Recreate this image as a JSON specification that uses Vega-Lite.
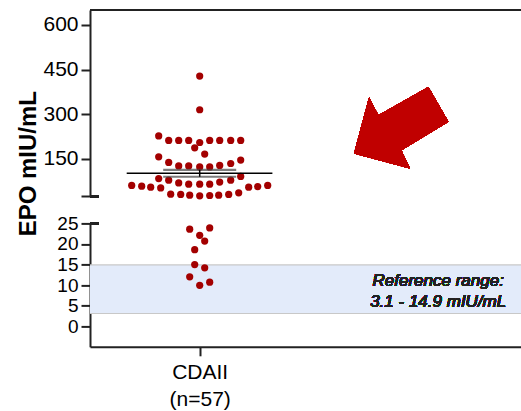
{
  "$schema": "https://vega.github.io/schema/vega-lite/v6.json",
  "padding": {"left": 16, "top": 9, "right": 0, "bottom": 0},
  "background": "white",
  "config": {
    "view": {"stroke": null},
    "font": "Liberation Sans",
    "axis": {
      "domainColor": "#222222", "domainWidth": 2, "tickColor": "#222222", "tickWidth": 2,
      "tickSize": 9, "grid": false, "labelFont": "Liberation Sans", "labelColor": "#000000",
      "labelFontSize": 21, "labelPadding": 3, "labelOverlap": false, "labelFlush": false
    }
  },
  "data": {"values": [
    {"value": 428, "slot": 0}, {"value": 315, "slot": 0}, {"value": 227, "slot": -4.1},
    {"value": 212, "slot": -3.1}, {"value": 212, "slot": -2.1}, {"value": 212, "slot": -1.1},
    {"value": 212, "slot": 1.0}, {"value": 212, "slot": 2.0}, {"value": 212, "slot": 3.1}, {"value": 212, "slot": 4.1},
    {"value": 205, "slot": 0}, {"value": 187, "slot": -0.5}, {"value": 166, "slot": 0.5},
    {"value": 157, "slot": -4.1}, {"value": 146, "slot": 4.1}, {"value": 138, "slot": -3.1},
    {"value": 126.5, "slot": -2.1}, {"value": 126.5, "slot": -1.1}, {"value": 123, "slot": 0},
    {"value": 123, "slot": 1.0}, {"value": 128, "slot": 2.0}, {"value": 134.5, "slot": 3.1},
    {"value": 84, "slot": -4.1}, {"value": 91, "slot": 4.1},
    {"value": 78.5, "slot": -3.1}, {"value": 69.4, "slot": -2.1}, {"value": 65, "slot": -1.1},
    {"value": 65, "slot": 0}, {"value": 65, "slot": 1.0}, {"value": 72, "slot": 2.0}, {"value": 78.5, "slot": 3.1},
    {"value": 60.7, "slot": -6.8}, {"value": 58.3, "slot": -5.8}, {"value": 55, "slot": -4.9}, {"value": 52.6, "slot": -3.9},
    {"value": 55, "slot": 4.9}, {"value": 57, "slot": 5.8}, {"value": 60.7, "slot": 6.8},
    {"value": 31.5, "slot": -2.9}, {"value": 30.5, "slot": -1.9}, {"value": 28, "slot": -1.0}, {"value": 25.8, "slot": 0},
    {"value": 27, "slot": 1.0}, {"value": 28, "slot": 1.9}, {"value": 30.5, "slot": 2.9}, {"value": 36, "slot": 3.9},
    {"value": 23.6, "slot": -1.0}, {"value": 23.9, "slot": 1.0}, {"value": 22.1, "slot": 0}, {"value": 20.7, "slot": 0.5},
    {"value": 18.6, "slot": -0.5}, {"value": 15.0, "slot": -0.5}, {"value": 14.2, "slot": 0.5}, {"value": 12.0, "slot": -1.0},
    {"value": 9.95, "slot": 0}, {"value": 10.7, "slot": 1.0}
  ]},
  "bounds": "flush",
  "spacing": 26.4,
  "vconcat": [
    {
      "width": 432,
      "height": 186.1,
      "layer": [
        {
          "transform": [{"filter": "datum.value >= 25"}],
          "mark": {"type": "circle", "size": 52, "color": "#a30000", "opacity": 1, "clip": false},
          "encoding": {
            "x": {"field": "slot", "type": "quantitative", "scale": {"domain": [-10.97, 32.23], "nice": false, "zero": false}, "axis": null},
            "y": {"field": "value", "type": "quantitative", "title": "EPO mIU/mL",
              "scale": {"domain": [25, 650], "nice": false, "zero": false},
              "axis": {
                "values": [25, 150, 300, 450, 600],
                "labelExpr": "datum.value == 25 ? '' : datum.label",
                "labelOverlap": false,
                "title": "EPO mIU/mL",
                "titleFont": "Liberation Sans", "titleFontSize": 24, "titleFontWeight": "bold", "titleColor": "#000000",
                "titleAngle": -90, "titleX": -55, "titleY": 153.2, "titleAlign": "center", "titleBaseline": "alphabetic"
              }
            }
          }
        },
        {
          "mark": {"type": "errorbar", "extent": "stderr", "ticks": {"size": 73, "thickness": 2.2, "color": "#444444"}, "rule": {"color": "#000000", "strokeWidth": 1.5}},
          "encoding": {
            "x": {"datum": 0},
            "y": {"field": "value", "type": "quantitative", "title": "EPO mIU/mL"}
          }
        },
        {
          "mark": {"type": "rule", "color": "#000000", "strokeWidth": 1.6},
          "encoding": {
            "x": {"datum": -7.3},
            "x2": {"datum": 7.27},
            "y": {"aggregate": "mean", "field": "value", "type": "quantitative", "title": "EPO mIU/mL"}
          }
        },
        {
          "mark": {"type": "rule", "color": "#222222", "strokeWidth": 2},
          "encoding": {"y": {"datum": 650}}
        },
        {
          "mark": {"type": "rule", "color": "#222222", "strokeWidth": 2},
          "encoding": {"x": {"datum": -10.97}, "x2": {"datum": -10.07}, "y": {"datum": 25}}
        },
        {
          "mark": {"type": "point", "filled": true, "color": "#c00000", "opacity": 1, "size": 8911, "strokeWidth": 0,
            "shape": "M -1 0.547 L -0.682 -0.64 L -0.483 -0.265 L 0.576 -0.864 L 1 -0.123 L 0.004 0.477 L 0.186 0.864 Z"},
          "encoding": {"x": {"datum": 20.15}, "y": {"datum": 254.8}}
        }
      ]
    },
    {
      "width": 432,
      "height": 123.4,
      "layer": [
        {
          "transform": [{"filter": "datum.value < 25"}],
          "mark": {"type": "circle", "size": 52, "color": "#a30000", "opacity": 0, "clip": false},
          "encoding": {
            "x": {"field": "slot", "type": "quantitative", "scale": {"domain": [-10.97, 32.23], "nice": false, "zero": false},
              "axis": {"values": [0], "labelExpr": "['CDAII', '(n=57)']", "labelFontSize": 21, "labelLineHeight": 27, "labelPadding": 6, "title": null}},
            "y": {"field": "value", "type": "quantitative", "scale": {"domain": [-5, 25], "nice": false, "zero": false},
              "axis": {"values": [0, 5, 10, 15, 20, 25], "labelOverlap": false, "labelFontSize": 19, "title": null}}
          }
        },
        {
          "data": {"values": [{"lo": 3.1, "hi": 14.9}]},
          "mark": {"type": "rect", "color": "#e3ebfa"},
          "encoding": {
            "y": {"field": "lo", "type": "quantitative", "axis": {"values": [0, 5, 10, 15, 20, 25], "labelOverlap": false, "labelFontSize": 19, "title": null}},
            "y2": {"field": "hi"}
          }
        },
        {
          "data": {"values": [{"edge": 3.1}, {"edge": 14.9}]},
          "mark": {"type": "rule", "color": "#c8c8c8", "strokeWidth": 1.2},
          "encoding": {"y": {"field": "edge", "type": "quantitative", "axis": {"values": [0, 5, 10, 15, 20, 25], "labelOverlap": false, "labelFontSize": 19, "title": null}}}
        },
        {
          "transform": [{"filter": "datum.value < 25"}],
          "mark": {"type": "circle", "size": 52, "color": "#a30000", "opacity": 1, "clip": false},
          "encoding": {
            "x": {"field": "slot", "type": "quantitative"},
            "y": {"field": "value", "type": "quantitative",
              "axis": {"values": [0, 5, 10, 15, 20, 25], "labelOverlap": false, "labelFontSize": 19, "title": null}}
          }
        },
        {
          "mark": {"type": "rule", "color": "#222222", "strokeWidth": 2},
          "encoding": {"x": {"datum": -10.97}, "x2": {"datum": -10.07},
            "y": {"datum": 25, "axis": {"values": [0, 5, 10, 15, 20, 25], "labelOverlap": false, "labelFontSize": 19, "title": null}}}
        },
        {
          "mark": {"type": "text", "text": ["Reference range:", "3.1 - 14.9 mIU/mL"], "font": "Liberation Sans", "fontStyle": "italic",
            "fontSize": 17, "lineHeight": 21, "align": "center", "baseline": "alphabetic", "fill": "#222222", "stroke": null},
          "encoding": {"x": {"datum": 23.85},
            "y": {"datum": 9.75, "axis": {"values": [0, 5, 10, 15, 20, 25], "labelOverlap": false, "labelFontSize": 19, "title": null}}}
        }
      ]
    }
  ]
}
